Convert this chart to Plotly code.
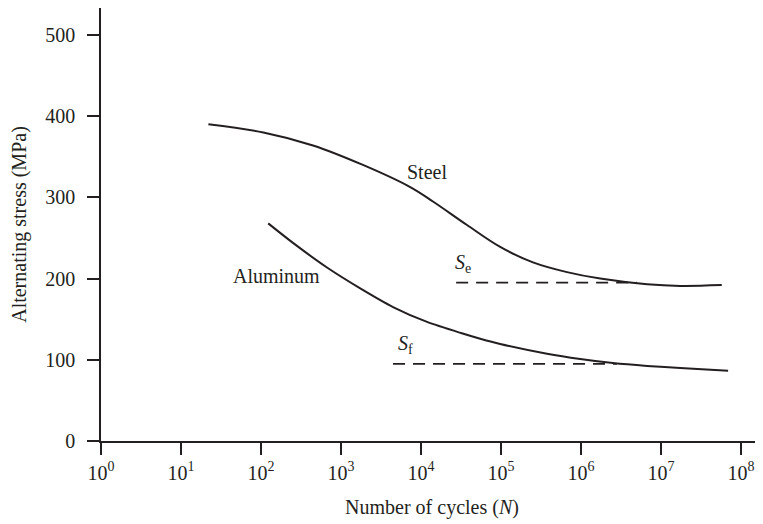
import plotly.graph_objects as go

# Steel S-N curve (cycles, MPa)
steel_n = [22, 107, 447, 1880, 7240, 14100, 37600, 97700, 251000, 668000, 1.74e6, 6.7e6, 1.74e7, 5.75e7]
steel_s = [390, 380, 364, 340, 313, 295, 266, 239, 220, 208, 200, 193, 191, 192]

# Aluminum S-N curve
alu_n = [123, 251, 661, 1740, 4470, 11700, 31600, 55000, 97700, 376000, 977000, 2.5e6, 6.7e6, 1.74e7, 6.9e7]
alu_s = [268, 244, 214, 188, 165, 147, 133, 126, 119.5, 107.5, 101, 96, 92.5, 90, 86.5]

# Endurance limit (steel) and fatigue strength (aluminum) dashed lines
se_n = [27500, 5.0e6]
se_s = [195, 195]
sf_n = [4470, 2.8e6]
sf_s = [95, 95]

x_tickvals = [1, 10, 100, 1e3, 1e4, 1e5, 1e6, 1e7, 1e8]
x_ticktext = ["10<sup>%d</sup>" % i for i in range(9)]
y_tickvals = [0, 100, 200, 300, 400, 500]

INK = "#231f20"
FONT = "Liberation Serif"
FS = 20

fig = go.Figure()
fig.add_trace(go.Scatter(x=steel_n, y=steel_s, mode="lines",
                         line=dict(color=INK, width=2, shape="spline", smoothing=1.0)))
fig.add_trace(go.Scatter(x=alu_n, y=alu_s, mode="lines",
                         line=dict(color=INK, width=2, shape="spline", smoothing=0.8)))
fig.add_trace(go.Scatter(x=se_n, y=se_s, mode="lines",
                         line=dict(color=INK, width=1.8, dash="12px,8px")))
fig.add_trace(go.Scatter(x=sf_n, y=sf_s, mode="lines",
                         line=dict(color=INK, width=1.8, dash="12px,8px")))

annots = [
    dict(x=4.07, y=331, text="Steel"),
    dict(x=2.19, y=203, text="Aluminum"),
    dict(x=4.52, y=219, text="<i>S</i><sub>e</sub>"),
    dict(x=3.8, y=119, text="<i>S</i><sub>f</sub>"),
]
for a in annots:
    fig.add_annotation(x=a["x"], y=a["y"], xref="x", yref="y", text=a["text"],
                       showarrow=False, font=dict(family=FONT, size=FS, color=INK))

# The page body has an 8px margin, so the figure is sized to fit the window.
fig.update_layout(
    width=755, height=516,
    margin=dict(l=93, r=0, t=0, b=83),
    paper_bgcolor="white", plot_bgcolor="white",
    showlegend=False,
    font=dict(family=FONT, size=FS, color=INK),
)
fig.update_xaxes(
    type="log", range=[0, 8.275], automargin=False,
    tickvals=x_tickvals, ticktext=x_ticktext,
    tickfont=dict(family=FONT, size=FS, color=INK),
    showgrid=False, zeroline=False,
    showline=True, linecolor=INK, linewidth=1.5,
    ticks="outside", ticklen=12, tickwidth=1.5, tickcolor=INK,
    ticklabelstandoff=1,
    title=dict(text="Number of cycles (<i>N</i>)", standoff=17,
               font=dict(family=FONT, size=FS, color=INK)),
)
fig.update_yaxes(
    range=[0, 533.3], automargin=False,
    tickvals=y_tickvals,
    tickfont=dict(family=FONT, size=FS, color=INK),
    showgrid=False, zeroline=False,
    showline=True, linecolor=INK, linewidth=1.5,
    ticks="outside", ticklen=12, tickwidth=1.5, tickcolor=INK,
    ticklabelstandoff=8,
    title=dict(text="Alternating stress (MPa)", standoff=14,
               font=dict(family=FONT, size=FS, color=INK)),
)

fig.write_html("out.html")
